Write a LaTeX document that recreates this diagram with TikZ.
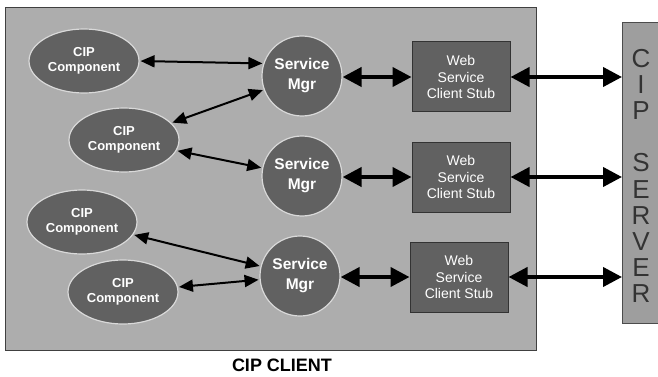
\documentclass[tikz,border=0pt]{standalone}
\usepackage{fontspec}
\setmainfont{Liberation Sans}
\usetikzlibrary{shapes.geometric,arrows.meta}
\definecolor{clientfill}{gray}{0.68}
\definecolor{darkfill}{gray}{0.38}
\definecolor{serverfill}{gray}{0.62}
\definecolor{halo}{gray}{0.85}
\tikzset{
  comp/.style={ellipse, fill=darkfill, draw=halo, line width=1.2pt, minimum width=110pt, minimum height=64pt, inner sep=0pt,
    text=white, font=\fontsize{13}{15}\selectfont\bfseries, align=center},
  mgr/.style={circle, fill=darkfill, draw=halo, line width=1.2pt, minimum size=80pt, inner sep=0pt,
    text=white, font=\fontsize{15.5}{20}\selectfont\bfseries, align=center},
  stub/.style={rectangle, fill=darkfill, draw=black!80, line width=1pt, minimum width=98pt, minimum height=70pt, inner sep=0pt,
    text=white, font=\fontsize{14}{16.5}\selectfont, align=center},
  thinarr/.style={line width=2pt, {Triangle[length=14pt,width=12pt]}-{Triangle[length=14pt,width=12pt]}, shorten <=1pt, shorten >=1pt},
  thickarr/.style={line width=4pt, {Triangle[length=19pt,width=19pt]}-{Triangle[length=19pt,width=19pt]}},
}
\begin{document}
\begin{tikzpicture}[x=1pt,y=-1pt]
\useasboundingbox (0,0) rectangle (658,377);
% client area
\node[rectangle, fill=clientfill, draw=black!75, line width=1pt, minimum width=531pt, minimum height=343pt, inner sep=0pt, anchor=north west] (client) at (5,7) {};
% server
\node[rectangle, fill=serverfill, draw=black!70, line width=1pt, minimum width=38pt, minimum height=301pt, inner sep=0pt, anchor=north west] (srv) at (622,22) {};
\node[text=black!80, font=\fontsize{26}{26.2}\selectfont, align=center, inner sep=0pt] (srvtext) at (641,176) {C\\I\\P\\[26.2pt]S\\E\\R\\V\\E\\R};
% components
\node[comp] (e1) at (84,61) {CIP\\Component};
\node[comp] (e2) at (124,140) {CIP\\Component};
\node[comp] (e3) at (82,222) {CIP\\Component};
\node[comp] (e4) at (123,292) {CIP\\Component};
% service managers
\node[mgr] (s1) at (302,76) {Service\\Mgr};
\node[mgr] (s2) at (302,176) {Service\\Mgr};
\node[mgr] (s3) at (300,276) {Service\\Mgr};
% stubs
\node[stub] (w1) at (461,77) {Web\\Service\\Client Stub};
\node[stub] (w2) at (461,177) {Web\\Service\\Client Stub};
\node[stub] (w3) at (459,277) {Web\\Service\\Client Stub};
% thin arrows
\draw[thinarr] (e1.east) -- (s1.162);
\draw[thinarr] (e2) -- (s1);
\draw[thinarr] (e2) -- (s2);
\draw[thinarr] (e3) -- (s3);
\draw[thinarr] (e4) -- (s3);
% thick arrows
\draw[thickarr] (s1.east |- w1.west) -- (w1.west);
\draw[thickarr] (s2.east |- w2.west) -- (w2.west);
\draw[thickarr] (s3.east |- w3.west) -- (w3.west);
\draw[thickarr] (w1.east) -- (w1.east -| srv.west);
\draw[thickarr] (w2.east) -- (w2.east -| srv.west);
\draw[thickarr] (w3.east) -- (w3.east -| srv.west);
% label
\node[font=\fontsize{18}{18}\selectfont\bfseries, text=black, inner sep=1pt] (lbl) at (282,365) {CIP CLIENT};
\end{tikzpicture}
\end{document}
